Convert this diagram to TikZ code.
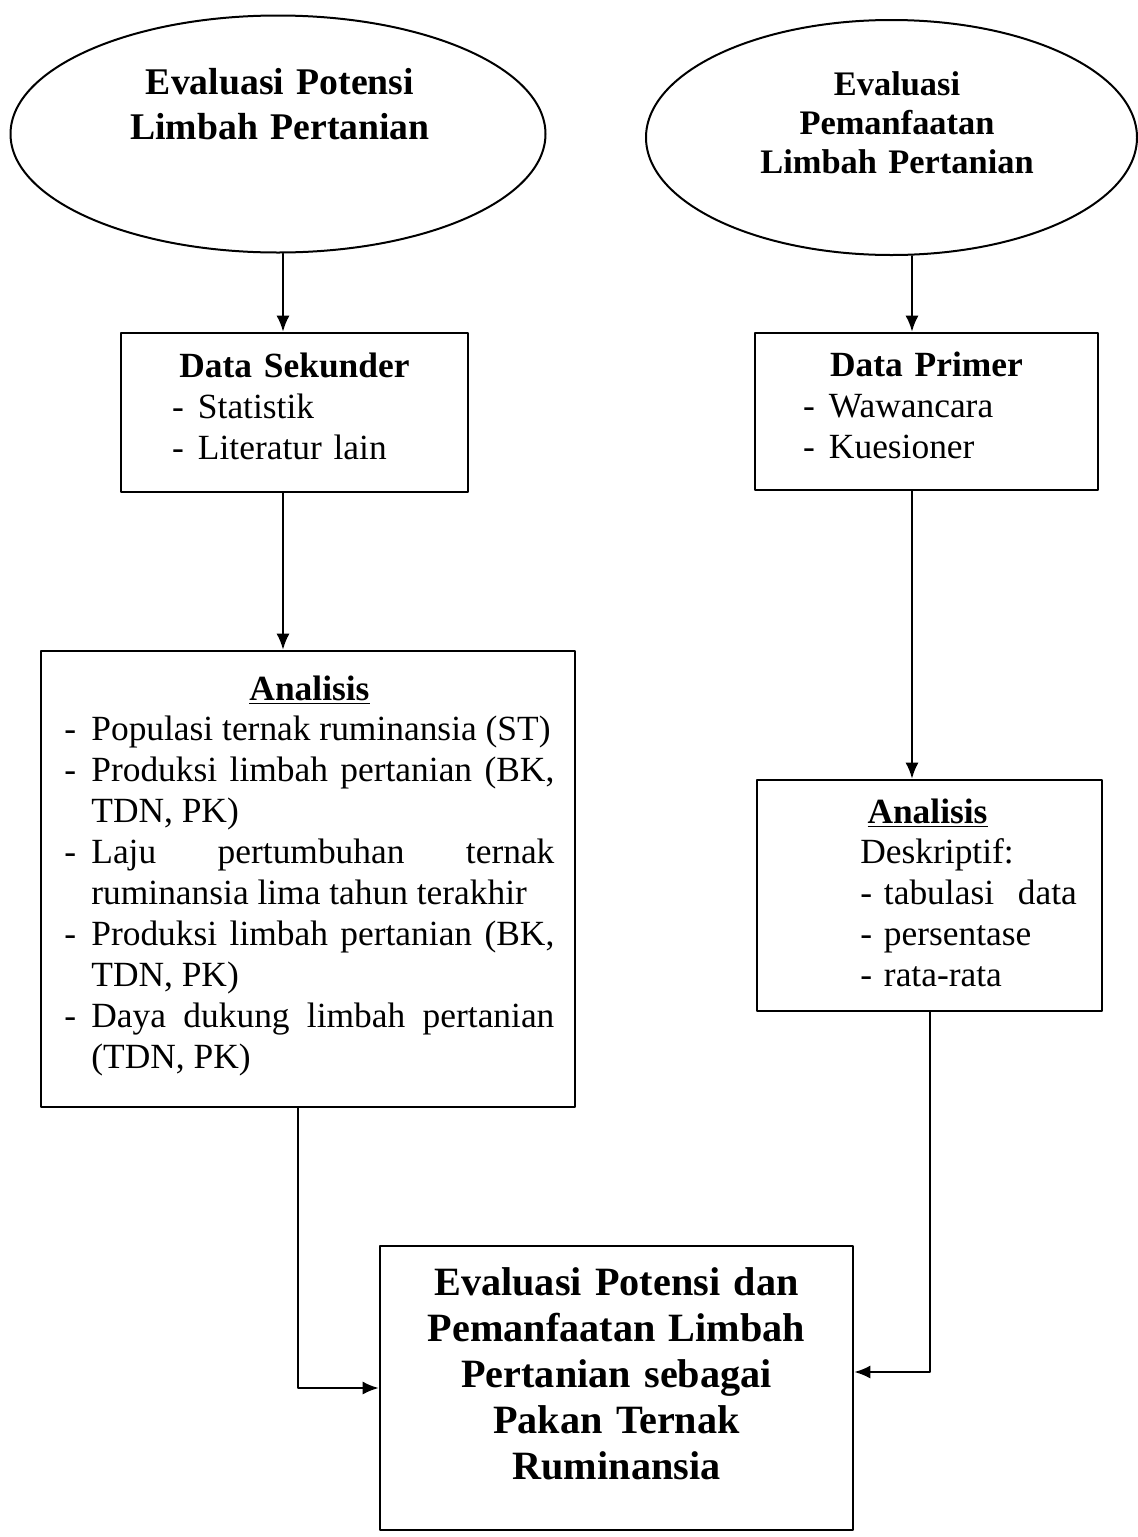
\documentclass[tikz,border=0pt]{standalone}
\usepackage{fontspec}
\setmainfont{Liberation Serif}
\usetikzlibrary{arrows.meta,shapes.geometric}
\newcommand{\garis}{\makebox[13pt][l]{-}}
\newcommand{\butir}[1]{\noindent\hangindent=13.5pt\hangafter=1\makebox[13.5pt][l]{-}#1\par}
\tikzset{
  oval/.style={ellipse,draw,line width=1pt,inner sep=0pt},
  kotak/.style={rectangle,draw,line width=1.3pt,inner sep=0pt},
  isi/.style={font=\fontsize{17.7pt}{20.5pt}\selectfont,inner sep=0pt},
  judul/.style={font=\fontsize{18.85pt}{22.5pt}\selectfont\bfseries,align=center,inner sep=0pt},
  panah/.style={->,line width=1pt}
}
\begin{document}
\begin{tikzpicture}[x=0.5pt,y=-0.5pt,line join=round,line cap=round,>={Latex[length=8pt,width=6.5pt]}]
\useasboundingbox (0,0) rectangle (1138,1537);
% elips
\node[oval,minimum width=267.5pt,minimum height=118.5pt] (potensi) at (278,134) {};
\node[judul,text width=200pt,anchor=base] (potensiteks) at (280,94) {Evaluasi Potensi\\Limbah Pertanian};
\node[oval,minimum width=245.5pt,minimum height=117.5pt] (pemanfaatan) at (891.5,137.5) {};
\node[judul,font=\fontsize{17.2pt}{19.5pt}\selectfont\bfseries,text width=200pt,anchor=base] (pemanfaatanteks) at (897,95) {Evaluasi\\Pemanfaatan\\Limbah Pertanian};
% data
\node[kotak,isi,text width=122.5pt,inner xsep=25.5pt,minimum height=79.5pt,align=left] (sekunder) at (294.5,412.5)
  {\makebox[\linewidth]{\textbf{Data Sekunder}}\\\garis Statistik\\\garis Literatur lain\strut};
\node[kotak,isi,text width=123.5pt,inner xsep=24pt,minimum height=78.5pt,align=left] (primer) at (926.5,411.5)
  {\makebox[\linewidth]{\textbf{Data Primer}}\\\garis Wawancara\\\garis Kuesioner\strut};
% analisis
\node[kotak,minimum width=267pt,minimum height=228pt] (analisis) at (308,879) {};
\node[isi,anchor=base] (analisisjudul) at (309.5,700) {\underline{\textbf{Analisis}}};
\node[isi,text width=245pt,align=justify,anchor=base west] (analisisteks) at (64,740)
  {\butir{Populasi ternak ruminansia (ST)}%
   \butir{Produksi limbah pertanian (BK,\linebreak TDN, PK)}%
   \butir{Laju pertumbuhan ternak\linebreak ruminansia lima tahun terakhir}%
   \butir{Produksi limbah pertanian (BK,\linebreak TDN, PK)}%
   \butir{Daya dukung limbah pertanian\linebreak (TDN, PK)}};
\node[kotak,minimum width=172.5pt,minimum height=115.5pt] (deskriptif) at (929.5,895.5) {};
\node[isi,anchor=base] (deskriptifjudul) at (927.5,823) {\underline{\textbf{Analisis}}};
\node[isi,text width=110pt,align=left,anchor=base west] (deskriptifteks) at (860,863)
  {Deskriptif:\\- tabulasi\hspace{6pt} data\\- persentase\\- rata-rata};
% hasil
\node[kotak,minimum width=236.5pt,minimum height=142pt] (hasil) at (616.5,1388) {};
\node[judul,font=\fontsize{20.1pt}{23pt}\selectfont\bfseries,text width=230pt,anchor=base] (hasilteks) at (616.5,1295)
  {Evaluasi Potensi dan\\Pemanfaatan Limbah\\Pertanian sebagai\\Pakan Ternak\\Ruminansia};
% panah
\coordinate (kiri) at (283,0);
\coordinate (kanan) at (912,0);
\coordinate (turun) at (298,0);
\draw[panah] (kiri |- potensi.south) -- (kiri |- sekunder.north);
\draw[panah] (kiri |- sekunder.south) -- (kiri |- analisis.north);
\draw[panah] (kanan |- pemanfaatan.south) -- (kanan |- primer.north);
\draw[panah] (kanan |- primer.south) -- (kanan |- deskriptif.north);
\draw[panah] (turun |- analisis.south) |- (hasil.west);
\draw[panah] (deskriptif.south) |- ([yshift=8pt]hasil.east);
\end{tikzpicture}
\end{document}
